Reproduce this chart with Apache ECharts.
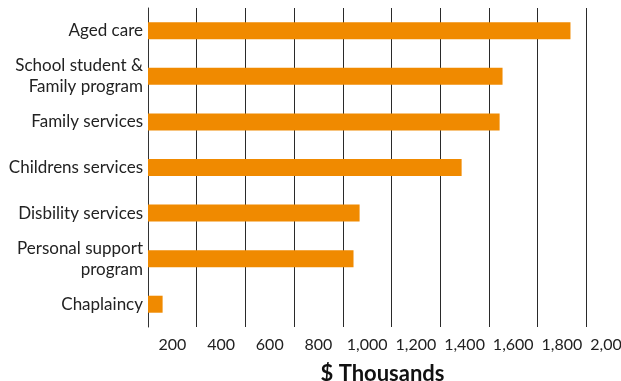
<!DOCTYPE html>
<html>
<head>
<meta charset="utf-8">
<script src="https://cdn.jsdelivr.net/npm/echarts@6/dist/echarts.min.js"></script>
<style>
  html, body { margin: 0; padding: 0; background: #fff; }
  #chart { width: 621px; height: 381px; }
</style>
</head>
<body>
<div id="chart"></div>
<script>
var categories = [
  "Aged care",
  "School student &\nFamily program",
  "Family services",
  "Childrens services",
  "Disbility services",
  "Personal support\nprogram",
  "Chaplaincy"
];
var values = [1735, 1456, 1444, 1288, 869, 844, 60];
var tickLabels = ["200", "400", "600", "800", "1,000", "1,200", "1,400", "1,600", "1,800", "2,000"];

var font = "Lato, 'Noto Sans', sans-serif";
var myChart = echarts.init(document.getElementById("chart"));
var option = {
  animation: false,
  grid: {
    top: 8,
    bottom: 54,
    left: 148,
    right: -14,
    outerBoundsMode: "none"
  },
  xAxis: {
    type: "value",
    min: 0,
    max: 2000,
    interval: 200,
    axisLine: { show: false },
    axisTick: { show: false },
    splitLine: {
      show: true,
      lineStyle: { color: "#2a2a2a", width: 1 }
    },
    axisLabel: {
      // labels sit between grid lines in the original
      customValues: tickLabels.map(function (t, i) { return i * 200 + 100; }),
      formatter: function (v) {
        return tickLabels[Math.round((v - 100) / 200)];
      },
      color: "#222",
      fontSize: 16,
      fontFamily: font,
      margin: 10
    },
    name: "$ Thousands",
    nameLocation: "middle",
    nameGap: 36,
    nameTextStyle: {
      color: "#111",
      fontSize: 22,
      fontWeight: "bold",
      fontFamily: font,
      padding: [0, 18, 0, 0]
    }
  },
  yAxis: {
    type: "category",
    inverse: true,
    data: categories,
    axisLine: { show: true, lineStyle: { color: "#333", width: 1 } },
    axisTick: { show: false },
    axisLabel: {
      color: "#222",
      fontSize: 17,
      fontFamily: font,
      lineHeight: 21,
      margin: 5,
      align: "right"
    }
  },
  series: [
    {
      type: "bar",
      data: values,
      barWidth: 17,
      itemStyle: { color: "#F08A00" }
    }
  ]
};
myChart.setOption(option, true);
</script>
</body>
</html>
